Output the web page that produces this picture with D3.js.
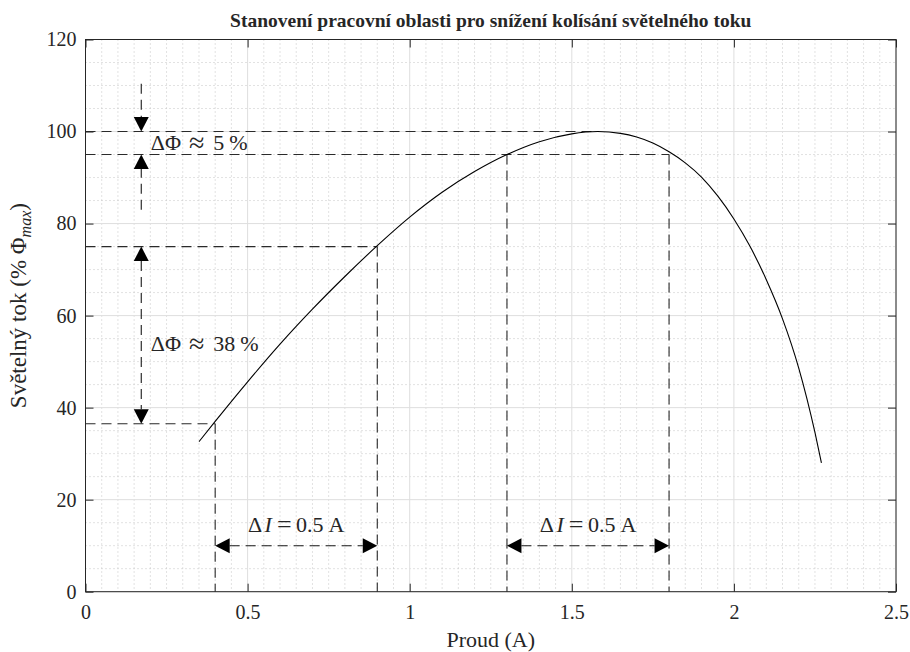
<!DOCTYPE html>
<html>
<head>
<meta charset="utf-8">
<script src="https://cdn.jsdelivr.net/npm/d3@7"></script>
<style>
  html, body { margin: 0; padding: 0; background: #fff; }
  svg { display: block; }
  text { font-family: "Liberation Serif", "Times New Roman", serif; fill: #262626; }
</style>
</head>
<body>
<div id="chart"></div>
<script>
// ---------- data ----------
const curveX = [0.35, 0.40, 0.50, 0.60, 0.70, 0.80, 0.90, 1.00, 1.10, 1.20, 1.30, 1.40, 1.50, 1.58, 1.65, 1.70, 1.75, 1.80, 1.85, 1.90, 1.95, 2.00, 2.05, 2.10, 2.15, 2.20, 2.25, 2.27];
const curveY = [32.6, 37.0, 45.6, 53.8, 61.4, 68.5, 75.2, 81.4, 86.8, 91.3, 95.0, 97.8, 99.5, 100.0, 99.6, 98.8, 97.5, 95.6, 93.2, 90.1, 86.0, 81.0, 75.0, 67.8, 59.3, 48.6, 34.6, 28.0];

const xTicks = [0, 0.5, 1, 1.5, 2, 2.5];
const xTickLabels = ["0", "0.5", "1", "1.5", "2", "2.5"];
const yTicks = [0, 20, 40, 60, 80, 100, 120];
const yTickLabels = ["0", "20", "40", "60", "80", "100", "120"];
const xDomain = [0, 2.5];
const yDomain = [0, 120];
const xMinorStep = 0.05;
const yMinorStep = 5;

// guide lines (data coordinates): horizontal from x=0 to point, vertical from point down to y=0
const hGuideX = [1.58, 1.80, 0.90, 0.40];
const hGuideY = [100, 95, 75, 36.5];
const vGuideX = [1.30, 1.80, 0.90, 0.40];
const vGuideY = [95, 95, 75, 36.5];

// arrows
const arrowX1 = [0.172, 0.172, 0.172, 0.40, 1.30];
const arrowY1 = [110.4, 83.0, 75.0, 10, 10];
const arrowX2 = [0.172, 0.172, 0.172, 0.90, 1.80];
const arrowY2 = [100.0, 95.0, 36.5, 10, 10];
const arrowStartHead = [false, false, true, true, true];
const arrowEndHead = [true, true, true, true, true];

// annotation labels
const dPhiLabels = ["5", "38"];
const dPhiLabelY = [97.5, 53.8];
const dILabelRanges = [[0.40, 0.90], [1.30, 1.80]];
const dIValue = "0.5";

const title = "Stanovení pracovní oblasti pro snížení kolísání světelného toku";
const xLabel = "Proud (A)";

// ---------- layout ----------
const W = 910, H = 652;
const M = { left: 85.5, top: 39.5, right: 14, bottom: 60.3 };
const pw = W - M.left - M.right, ph = H - M.top - M.bottom;

const svg = d3.select("#chart").append("svg").attr("width", W).attr("height", H);
const g = svg.append("g").attr("transform", `translate(${M.left},${M.top})`);

const x = d3.scaleLinear().domain(xDomain).range([0, pw]);
const y = d3.scaleLinear().domain(yDomain).range([ph, 0]);

// minor grid
const xMinor = d3.range(xDomain[0], xDomain[1] + 1e-9, xMinorStep).filter(v => Math.abs(v / 0.5 - Math.round(v / 0.5)) > 1e-6);
const yMinor = d3.range(yDomain[0], yDomain[1] + 1e-9, yMinorStep).filter(v => v % 20 !== 0);
g.append("g").selectAll("line").data(xMinor).join("line")
  .attr("x1", d => x(d)).attr("x2", d => x(d)).attr("y1", 0).attr("y2", ph)
  .attr("stroke", "#c4c4c4").attr("stroke-width", 1).attr("stroke-dasharray", "1,3");
g.append("g").selectAll("line").data(yMinor).join("line")
  .attr("x1", 0).attr("x2", pw).attr("y1", d => y(d)).attr("y2", d => y(d))
  .attr("stroke", "#c4c4c4").attr("stroke-width", 1).attr("stroke-dasharray", "1,3");

// major grid
g.append("g").selectAll("line").data(xTicks).join("line")
  .attr("x1", d => x(d)).attr("x2", d => x(d)).attr("y1", 0).attr("y2", ph)
  .attr("stroke", "#dedede").attr("stroke-width", 1);
g.append("g").selectAll("line").data(yTicks).join("line")
  .attr("x1", 0).attr("x2", pw).attr("y1", d => y(d)).attr("y2", d => y(d))
  .attr("stroke", "#dedede").attr("stroke-width", 1);

// guide lines
const dash = "10,6";
const guideColor = "#2a2a2a";
g.append("g").selectAll("line").data(hGuideX.map((d, i) => [d, hGuideY[i]])).join("line")
  .attr("x1", x(0)).attr("x2", d => x(d[0])).attr("y1", d => y(d[1])).attr("y2", d => y(d[1]))
  .attr("stroke", guideColor).attr("stroke-width", 1.1).attr("stroke-dasharray", dash);
g.append("g").selectAll("line").data(vGuideX.map((d, i) => [d, vGuideY[i]])).join("line")
  .attr("x1", d => x(d[0])).attr("x2", d => x(d[0])).attr("y1", d => y(d[1])).attr("y2", y(0))
  .attr("stroke", guideColor).attr("stroke-width", 1.1).attr("stroke-dasharray", dash);

// arrows
const headLen = 14.5, headHalf = 7.5;
const arrows = arrowX1.map((d, i) => ({
  x1: x(d), y1: y(arrowY1[i]), x2: x(arrowX2[i]), y2: y(arrowY2[i]),
  s: arrowStartHead[i], e: arrowEndHead[i]
}));
const ag = g.append("g");
function head(tipX, tipY, fromX, fromY) {
  const dx = tipX - fromX, dy = tipY - fromY, L = Math.hypot(dx, dy);
  const ux = dx / L, uy = dy / L;
  const bx = tipX - ux * headLen, by = tipY - uy * headLen;
  const px = -uy * headHalf, py = ux * headHalf;
  return `M${tipX},${tipY}L${bx + px},${by + py}L${bx - px},${by - py}Z`;
}
arrows.forEach(a => {
  const dx = a.x2 - a.x1, dy = a.y2 - a.y1, L = Math.hypot(dx, dy);
  const ux = dx / L, uy = dy / L;
  const sx = a.s ? a.x1 + ux * headLen : a.x1, sy = a.s ? a.y1 + uy * headLen : a.y1;
  const ex = a.e ? a.x2 - ux * headLen : a.x2, ey = a.e ? a.y2 - uy * headLen : a.y2;
  ag.append("line").attr("x1", sx).attr("y1", sy).attr("x2", ex).attr("y2", ey)
    .attr("stroke", "#1a1a1a").attr("stroke-width", 1.1).attr("stroke-dasharray", dash);
  if (a.e) ag.append("path").attr("d", head(a.x2, a.y2, a.x1, a.y1)).attr("fill", "#000");
  if (a.s) ag.append("path").attr("d", head(a.x1, a.y1, a.x2, a.y2)).attr("fill", "#000");
});

// curve
const line = d3.line().x(d => x(d[0])).y(d => y(d[1])).curve(d3.curveMonotoneX);
g.append("path").datum(curveX.map((d, i) => [d, curveY[i]]))
  .attr("d", line).attr("fill", "none").attr("stroke", "#000").attr("stroke-width", 1.1);

// annotation texts
function richText(parent, px, py, segs, anchor) {
  const t = parent.append("text").attr("x", px).attr("y", py).attr("font-size", 22)
    .attr("fill", "#000").attr("text-anchor", anchor || "start");
  segs.forEach(s => {
    const ts = t.append("tspan").text(s.t);
    if (s.dx) ts.attr("dx", s.dx);
    if (s.dy) ts.attr("dy", s.dy);
    if (s.size) ts.attr("font-size", s.size);
    if (s.it) ts.attr("font-style", "italic");
  });
  return t;
}
dPhiLabels.forEach((v, i) => {
  richText(g, x(arrowX1[0]) + 9.5, y(dPhiLabelY[i]) + 7, [
    { t: "ΔΦ" },
    { t: "≈", dx: 8, size: 28, dy: 1.5 },
    { t: v, dx: 9, dy: -1.5 },
    { t: "%", dx: 5 }
  ]);
});
dILabelRanges.forEach(([a, b]) => {
  richText(g, (x(a) + x(b)) / 2, y(10) - 13.5, [
    { t: "Δ" },
    { t: "I", it: true, dx: 2.5 },
    { t: "=", dx: 5, size: 26, dy: 1 },
    { t: dIValue, dx: 4.5, dy: -1 },
    { t: "A", dx: 5 }
  ], "middle");
});

// axes box
const axisColor = "#262626";
g.append("rect").attr("x", 0).attr("y", 0).attr("width", pw).attr("height", ph)
  .attr("fill", "none").attr("stroke", axisColor).attr("stroke-width", 1);

const tickLen = 8;
const xa = d3.axisBottom(x).tickValues(xTicks).tickFormat((d, i) => xTickLabels[i]).tickSizeInner(-tickLen).tickSizeOuter(0).tickPadding(13);
const ya = d3.axisLeft(y).tickValues(yTicks).tickFormat((d, i) => yTickLabels[i]).tickSizeInner(-tickLen).tickSizeOuter(0).tickPadding(9);
const xt = d3.axisTop(x).tickValues(xTicks).tickFormat("").tickSizeInner(-tickLen).tickSizeOuter(0);
const yr = d3.axisRight(y).tickValues(yTicks).tickFormat("").tickSizeInner(-tickLen).tickSizeOuter(0);

function styleAxis(sel) {
  sel.select(".domain").remove();
  sel.selectAll(".tick line").attr("stroke", axisColor);
  sel.selectAll(".tick text").attr("fill", axisColor).attr("font-size", 20)
    .attr("font-family", "Liberation Serif, Times New Roman, serif");
}
g.append("g").attr("transform", `translate(0,${ph})`).call(xa).call(styleAxis);
g.append("g").call(ya).call(styleAxis);
g.append("g").call(xt).call(styleAxis);
g.append("g").attr("transform", `translate(${pw},0)`).call(yr).call(styleAxis);

// title
svg.append("text").attr("x", M.left + pw / 2).attr("y", 26.5).attr("text-anchor", "middle")
  .attr("font-size", 19.5).attr("font-weight", "bold").attr("fill", "#000").text(title);

// x label
svg.append("text").attr("x", M.left + pw / 2).attr("y", 646.5).attr("text-anchor", "middle")
  .attr("font-size", 22).text(xLabel);

// y label
const yl = svg.append("text").attr("transform", `translate(26,${M.top + ph / 2 - 10}) rotate(-90)`)
  .attr("text-anchor", "middle").attr("font-size", 23);
yl.append("tspan").text("Světelný tok (% Φ");
yl.append("tspan").attr("font-style", "italic").attr("font-size", 16).attr("dy", 5).text("max");
yl.append("tspan").attr("dy", -5).text(")");
</script>
</body>
</html>
